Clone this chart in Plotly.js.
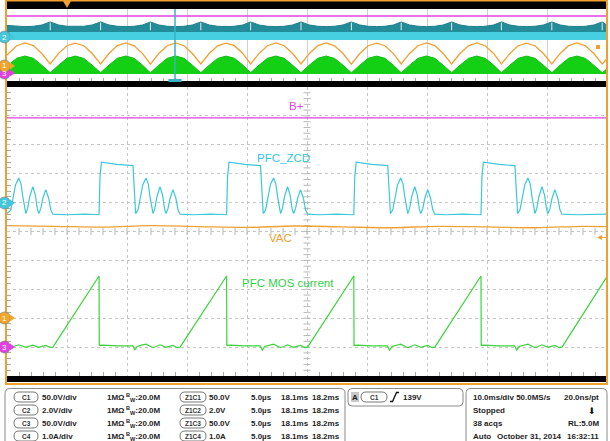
<!DOCTYPE html>
<html><head><meta charset="utf-8">
<script src="https://cdn.plot.ly/plotly-3.0.1.min.js"></script>
<style>html,body{margin:0;padding:0;background:#fff;overflow:hidden}#chart{width:610px;height:441px}</style>
</head><body><div id="chart"></div>
<script>
// ---------- DATA (vertical unit = screen divisions, 0 = bottom, 10 = top) ----------
// Overview record, time in ms (10 ms/div)
const ovT = [0, 1.6, 3.0, 4.4, 5.8,
  7.2, 8.6, 10.0, 11.4, 12.8, 14.2,
  15.6, 17.0, 18.4, 19.8, 21.2, 22.6,
  23.9, 25.3, 26.7, 28.1, 29.5, 30.9,
  32.3, 33.7, 35.1, 36.5, 37.9, 39.3,
  40.6, 42.0, 43.4, 44.8, 46.2, 47.6,
  49.0, 50.4, 51.8, 53.2, 54.6, 56.0,
  57.4, 58.8, 60.2, 61.6, 63.0, 64.4,
  65.7, 67.1, 68.5, 69.9, 71.3, 72.7,
  74.1, 75.5, 76.9, 78.3, 79.7, 81.1,
  82.4, 83.8, 85.2, 86.6, 88.0, 89.4,
  90.8, 92.2, 93.6, 95.0, 96.4, 97.8,
  99.2, 100];
const ovNotchT = [7.2, 15.6, 23.9, 32.3, 40.6, 49.0, 57.4, 65.7, 74.1, 82.4, 90.8, 99.2];
const ovVac = [3.6, 4.9, 5.28, 4.92, 3.82,
  2.36, 3.84, 4.9, 5.27, 4.9, 3.82,
  2.38, 3.82, 4.91, 5.29, 4.88, 3.8,
  2.35, 3.83, 4.9, 5.28, 4.9, 3.82,
  2.37, 3.82, 4.89, 5.27, 4.91, 3.83,
  2.36, 3.81, 4.9, 5.28, 4.9, 3.82,
  2.38, 3.83, 4.91, 5.29, 4.89, 3.82,
  2.35, 3.82, 4.9, 5.27, 4.9, 3.81,
  2.37, 3.83, 4.9, 5.28, 4.91, 3.82,
  2.36, 3.82, 4.89, 5.28, 4.9, 3.83,
  2.38, 3.81, 4.9, 5.27, 4.9, 3.82,
  2.36, 3.83, 4.91, 5.28, 4.89, 3.82,
  2.37, 3.1];
const ovCurEnv = [2.05, 3.15, 3.47, 3.15, 2.2,
  1.15, 2.2, 3.15, 3.46, 3.14, 2.2,
  1.16, 2.21, 3.16, 3.47, 3.15, 2.19,
  1.14, 2.2, 3.15, 3.48, 3.15, 2.2,
  1.15, 2.19, 3.14, 3.46, 3.16, 2.21,
  1.16, 2.2, 3.15, 3.47, 3.15, 2.2,
  1.15, 2.21, 3.16, 3.47, 3.14, 2.2,
  1.14, 2.2, 3.15, 3.46, 3.15, 2.19,
  1.15, 2.2, 3.15, 3.48, 3.16, 2.2,
  1.16, 2.19, 3.14, 3.47, 3.15, 2.21,
  1.15, 2.2, 3.15, 3.46, 3.15, 2.2,
  1.14, 2.21, 3.16, 3.47, 3.14, 2.2,
  1.15, 1.7];
const ovZcdTop = [7.72, 7.6, 7.55, 7.6, 7.78,
  8.2, 7.78, 7.6, 7.55, 7.6, 7.78,
  8.2, 7.78, 7.6, 7.55, 7.6, 7.78,
  8.2, 7.78, 7.6, 7.55, 7.6, 7.78,
  8.2, 7.78, 7.6, 7.55, 7.6, 7.78,
  8.2, 7.78, 7.6, 7.55, 7.6, 7.78,
  8.2, 7.78, 7.6, 7.55, 7.6, 7.78,
  8.2, 7.78, 7.6, 7.55, 7.6, 7.78,
  8.2, 7.78, 7.6, 7.55, 7.6, 7.78,
  8.2, 7.78, 7.6, 7.55, 7.6, 7.78,
  8.2, 7.78, 7.6, 7.55, 7.6, 7.78,
  8.2, 7.78, 7.6, 7.55, 7.6, 7.78,
  8.2, 7.75];
const ovFlatT = [0, 100];
const ovZcdMid = [6.8, 6.8];
const ovZcdLow = [5.7, 5.7];
const ovCurBase = [0.97, 0.97];
const ovBplus = [9.03, 9.03];

// Zoom window, time in microseconds (5 us/div)
const bplusT = [0, 50];
const bplusV = [8.93, 8.93];

const zcdT = [0.0, 0.32, 0.52, 0.72, 0.98, 1.17, 1.32, 1.47, 1.57, 1.72, 1.89, 2.15, 2.37, 2.52, 2.65, 2.82, 2.99, 3.23, 3.47, 3.65, 3.82, 5.0, 6.5,
  7.67, 7.75, 7.87, 8.17, 9.17, 10.5, 10.59, 10.72, 10.92, 11.12, 11.32, 11.58, 11.77, 11.92, 12.07, 12.17, 12.32, 12.49, 12.75, 12.97, 13.12, 13.25, 13.42, 13.59, 13.83, 14.07, 14.25, 14.42, 15.5, 17.0,
  18.3, 18.38, 18.5, 18.8, 19.8, 21.13, 21.22, 21.35, 21.55, 21.75, 21.95, 22.21, 22.4, 22.55, 22.7, 22.8, 22.95, 23.12, 23.38, 23.6, 23.75, 23.88, 24.05, 24.22, 24.46, 24.7, 24.88, 25.05, 26.0, 27.5,
  28.9, 28.98, 29.1, 29.4, 30.4, 31.73, 31.82, 31.95, 32.15, 32.35, 32.55, 32.81, 33.0, 33.15, 33.3, 33.4, 33.55, 33.72, 33.98, 34.2, 34.35, 34.48, 34.65, 34.82, 35.06, 35.3, 35.48, 35.65, 36.5, 38.0,
  39.5, 39.58, 39.7, 40.0, 41.0, 42.33, 42.42, 42.55, 42.75, 42.95, 43.15, 43.41, 43.6, 43.75, 43.9, 44.0, 44.15, 44.32, 44.58, 44.8, 44.95, 45.08, 45.25, 45.42, 45.66, 45.9, 46.08, 46.25, 47.5, 50.0];
const zcdV = [5.62, 5.75, 6.2, 6.62, 6.85, 6.65, 6.2, 5.75, 5.62, 5.8, 6.2, 6.55, 6.25, 5.8, 5.62, 5.8, 6.15, 6.45, 6.15, 5.75, 5.6, 5.58, 5.6,
  5.58, 6.9, 7.4, 7.38, 7.32, 7.28, 6.5, 5.62, 5.75, 6.2, 6.62, 6.85, 6.65, 6.2, 5.75, 5.62, 5.8, 6.2, 6.55, 6.25, 5.8, 5.62, 5.8, 6.15, 6.45, 6.15, 5.75, 5.6, 5.58, 5.6,
  5.58, 6.9, 7.4, 7.38, 7.32, 7.28, 6.5, 5.62, 5.75, 6.2, 6.62, 6.85, 6.65, 6.2, 5.75, 5.62, 5.8, 6.2, 6.55, 6.25, 5.8, 5.62, 5.8, 6.15, 6.45, 6.15, 5.75, 5.6, 5.58, 5.6,
  5.58, 6.9, 7.4, 7.38, 7.32, 7.28, 6.5, 5.62, 5.75, 6.2, 6.62, 6.85, 6.65, 6.2, 5.75, 5.62, 5.8, 6.2, 6.55, 6.25, 5.8, 5.62, 5.8, 6.15, 6.45, 6.15, 5.75, 5.6, 5.58, 5.6,
  5.58, 6.9, 7.4, 7.38, 7.32, 7.28, 6.5, 5.62, 5.75, 6.2, 6.62, 6.85, 6.65, 6.2, 5.75, 5.62, 5.8, 6.2, 6.55, 6.25, 5.8, 5.62, 5.8, 6.15, 6.45, 6.15, 5.75, 5.6, 5.58, 5.6];

const vacT = [0, 4, 8, 12, 16, 20, 24, 28, 32, 36, 40, 44, 48, 50];
const vacV = [5.2, 5.18, 5.15, 5.2, 5.17, 5.14, 5.19, 5.16, 5.13, 5.18, 5.16, 5.13, 5.18, 5.17];

const curT = [0, 0.4, 0.98, 1.57, 2.15, 2.65, 3.23, 3.6, 3.82, 7.67,
  7.69, 8.0, 9.2, 10.5, 10.65, 10.85, 11.2, 11.58, 12.17, 12.75, 13.25, 13.83, 14.2, 14.42, 18.3,
  18.32, 18.6, 19.8, 21.1, 21.28, 21.48, 21.83, 22.21, 22.8, 23.38, 23.88, 24.46, 24.83, 25.05, 28.9,
  28.92, 29.2, 30.4, 31.7, 31.88, 32.08, 32.43, 32.81, 33.4, 33.98, 34.48, 35.06, 35.43, 35.65, 39.5,
  39.52, 39.8, 41.0, 42.3, 42.48, 42.68, 43.03, 43.41, 44.0, 44.58, 45.08, 45.66, 46.03, 46.25, 50.0];
const curV = [1.04, 1.0, 1.08, 0.99, 1.07, 0.99, 1.06, 0.99, 1.0, 3.46,
  1.06, 1.07, 1.04, 1.04, 0.9, 1.02, 1.07, 1.1, 0.98, 1.08, 0.99, 1.06, 0.98, 1.0, 3.46,
  1.06, 1.07, 1.04, 1.04, 0.9, 1.02, 1.07, 1.1, 0.98, 1.08, 0.99, 1.06, 0.98, 1.0, 3.46,
  1.06, 1.07, 1.04, 1.04, 0.9, 1.02, 1.07, 1.1, 0.98, 1.08, 0.99, 1.06, 0.98, 1.0, 3.46,
  1.06, 1.07, 1.04, 1.04, 0.9, 1.02, 1.07, 1.1, 0.98, 1.08, 0.99, 1.06, 0.98, 1.0, 3.44];

const traceLabels = ["B+", "PFC_ZCD", "VAC", "PFC MOS current"];
const chanRows = [
  ["C1", "50.0V/div", "Z1C1", "50.0V"],
  ["C2", "2.0V/div", "Z1C2", "2.0V"],
  ["C3", "50.0V/div", "Z1C3", "50.0V"],
  ["C4", "1.0A/div", "Z1C4", "1.0A"]];
const zoomScale = "5.0µs", zoomStart = "18.1ms", zoomEnd = "18.2ms";
const trigText = "139V";
const acqLines = ["10.0ms/div 50.0MS/s", "20.0ns/pt", "Stopped", "38 acqs", "RL:5.0M", "Auto", "October 31, 2014", "16:32:11"];

// ---------- COLOURS ----------
const MAG = '#e040e0', CYN = '#3cc8d8', TEAL = '#238c98', ORG = '#f0a030', GRN = '#3ad43a', GRNF = '#14d014';
const FONT = 'Liberation Sans, Arial, sans-serif';

// ---------- helpers (pixel -> paper) ----------
const W = 610, H = 441;
const px = x => x / W, py = y => 1 - y / H;
function rr(x0, y0, x1, y1, r) {
  return `M${px(x0 + r)},${py(y0)} L${px(x1 - r)},${py(y0)} Q${px(x1)},${py(y0)} ${px(x1)},${py(y0 + r)} ` +
    `L${px(x1)},${py(y1 - r)} Q${px(x1)},${py(y1)} ${px(x1 - r)},${py(y1)} L${px(x0 + r)},${py(y1)} ` +
    `Q${px(x0)},${py(y1)} ${px(x0)},${py(y1 - r)} L${px(x0)},${py(y0 + r)} Q${px(x0)},${py(y0)} ${px(x0 + r)},${py(y0)} Z`;
}

// white notch lines inside the overview ZCD band
const notchX = [], notchY = [];
ovNotchT.forEach(t => { notchX.push(t, t, null); notchY.push(8.1, 7.05, null); });

const base = {mode: 'lines', hoverinfo: 'skip', showlegend: false};
const traces = [];
// centre crosshair minor ticks (graticule)
const chX = [], chXY = [], chY = [], chYX = [];
for (let i = 1; i < 50; i++) { chX.push(i); chXY.push(5); }
for (let i = 1; i < 50; i++) { chY.push(i * 0.2); chYX.push(25); }
traces.push(
  {type: 'scatter', mode: 'markers', x: chX, y: chXY, xaxis: 'x', yaxis: 'y', hoverinfo: 'skip', showlegend: false,
    marker: {symbol: 'line-ns', size: 5, line: {width: 1, color: '#b8b8b8'}}},
  {type: 'scatter', mode: 'markers', x: chYX, y: chY, xaxis: 'x', yaxis: 'y', hoverinfo: 'skip', showlegend: false,
    marker: {symbol: 'line-ew', size: 5, line: {width: 1, color: '#b8b8b8'}}}
);
traces.push(
  // overview
  Object.assign({}, base, {x: ovFlatT, y: ovCurBase, xaxis: 'x2', yaxis: 'y2', line: {width: 0, color: GRNF}}),
  Object.assign({}, base, {x: ovT, y: ovCurEnv, xaxis: 'x2', yaxis: 'y2', fill: 'tonexty', fillcolor: GRNF, line: {width: 1, color: '#10c010'}}),
  Object.assign({}, base, {x: ovFlatT, y: ovZcdLow, xaxis: 'x2', yaxis: 'y2', line: {width: 0, color: CYN}}),
  Object.assign({}, base, {x: ovFlatT, y: ovZcdMid, xaxis: 'x2', yaxis: 'y2', fill: 'tonexty', fillcolor: '#45cfe0', line: {width: 0, color: CYN}}),
  Object.assign({}, base, {x: ovT, y: ovZcdTop, xaxis: 'x2', yaxis: 'y2', fill: 'tonexty', fillcolor: TEAL, line: {width: 1, color: '#1f7f8a'}}),
  Object.assign({}, base, {x: notchX, y: notchY, xaxis: 'x2', yaxis: 'y2', line: {width: 1, color: 'rgba(255,255,255,0.85)'}}),
  Object.assign({}, base, {x: ovT, y: ovVac, xaxis: 'x2', yaxis: 'y2', line: {width: 1.3, color: ORG}}),
  Object.assign({}, base, {x: ovFlatT, y: ovBplus, xaxis: 'x2', yaxis: 'y2', line: {width: 1.5, color: MAG}}),
  // main zoom window
  Object.assign({}, base, {x: bplusT, y: bplusV, xaxis: 'x', yaxis: 'y', line: {width: 1.3, color: MAG}}),
  Object.assign({}, base, {x: vacT, y: vacV, xaxis: 'x', yaxis: 'y', line: {width: 1.3, color: ORG, shape: 'spline'}}),
  Object.assign({}, base, {x: zcdT, y: zcdV, xaxis: 'x', yaxis: 'y', line: {width: 1.2, color: CYN}}),
  Object.assign({}, base, {x: curT, y: curV, xaxis: 'x', yaxis: 'y', line: {width: 1.2, color: GRN}})
);

const shapes = [];
const annotations = [];
// black bars
[[1, 9], [81, 87], [376, 382]].forEach(b => shapes.push({type: 'rect', xref: 'paper', yref: 'paper',
  x0: px(7), x1: px(607), y0: py(b[1]), y1: py(b[0]), fillcolor: '#000', line: {width: 0}}));
// orange frame
shapes.push({type: 'rect', xref: 'paper', yref: 'paper', x0: px(6), x1: px(607), y0: py(384), y1: py(0.5),
  line: {color: ORG, width: 2}, fillcolor: 'rgba(0,0,0,0)'});
// trigger position marker
shapes.push({type: 'path', xref: 'paper', yref: 'paper', path: `M${px(63)},${py(1)} L${px(71)},${py(1)} L${px(67)},${py(8)} Z`,
  fillcolor: ORG, line: {width: 0}});
// zoom position marker in overview
shapes.push({type: 'line', xref: 'x2', yref: 'paper', x0: 28, x1: 28, y0: py(81), y1: py(9), line: {color: '#3ab0c8', width: 1.5}});
shapes.push({type: 'line', xref: 'x2', yref: 'paper', x0: 26.9, x1: 29.1, y0: py(80.5), y1: py(80.5), line: {color: '#3ab0c8', width: 3}});
// right side reference markers
shapes.push({type: 'path', xref: 'paper', yref: 'paper', path: `M${px(597)},${py(237.5)} L${px(602)},${py(235)} L${px(602)},${py(240)} Z`, fillcolor: ORG, line: {width: 0}});
shapes.push({type: 'line', xref: 'paper', yref: 'paper', x0: px(601), x1: px(606), y0: py(237.5), y1: py(237.5), line: {color: ORG, width: 1}});
shapes.push({type: 'rect', xref: 'paper', yref: 'paper', x0: px(596), x1: px(600), y0: py(49), y1: py(45), fillcolor: ORG, line: {width: 0}});

// channel markers on left
function chMarker(cy, col, txt, tc) {
  shapes.push({type: 'circle', xref: 'paper', yref: 'paper', x0: px(-1.5), x1: px(10.5), y0: py(cy + 6), y1: py(cy - 6),
    fillcolor: col, line: {color: '#777', width: 0.6}});
  shapes.push({type: 'path', xref: 'paper', yref: 'paper', path: `M${px(10)},${py(cy - 3.5)} L${px(15)},${py(cy)} L${px(10)},${py(cy + 3.5)} Z`,
    fillcolor: col, line: {width: 0}});
  annotations.push({xref: 'paper', yref: 'paper', x: px(4.5), y: py(cy), text: txt, showarrow: false,
    font: {family: FONT, size: 8, color: tc}, xanchor: 'center', yanchor: 'middle'});
}
chMarker(37, '#45c6dc', '2', '#fff');
chMarker(73, '#e040e0', '3', '#fff');
chMarker(66, '#f2a52a', '1', '#fff');
chMarker(203, '#45c6dc', '2', '#fff');
chMarker(347, '#e040e0', '3', '#fff');
chMarker(318, '#f2a52a', '1', '#fff');

// trace labels
const labelPos = [[24.1, 9.34, MAG], [23.0, 7.55, '#34c6e0'], [22.8, 4.78, ORG], [23.4, 3.22, '#34d04a']];
traceLabels.forEach((t, i) => annotations.push({xref: 'x', yref: 'y', x: labelPos[i][0], y: labelPos[i][1], text: t,
  showarrow: false, font: {family: FONT, size: 11.5, color: labelPos[i][2]}, xanchor: 'center', yanchor: 'middle'}));

// bottom info panels
const BOXC = '#8a8a8a';
shapes.push({type: 'path', xref: 'paper', yref: 'paper', path: rr(5, 388.5, 345, 446, 5), line: {color: BOXC, width: 1}, fillcolor: 'rgba(0,0,0,0)'});
shapes.push({type: 'path', xref: 'paper', yref: 'paper', path: rr(348, 388.5, 463, 406, 4), line: {color: BOXC, width: 1}, fillcolor: 'rgba(0,0,0,0)'});
shapes.push({type: 'path', xref: 'paper', yref: 'paper', path: rr(466, 388.5, 607, 446, 5), line: {color: BOXC, width: 1}, fillcolor: 'rgba(0,0,0,0)'});

function T(text, x, y, anchor, size, bold, color) {
  annotations.push({xref: 'paper', yref: 'paper', x: px(x), y: py(y), text: bold ? '<b>' + text + '</b>' : text,
    showarrow: false, xanchor: anchor || 'left', yanchor: 'middle',
    font: {family: FONT, size: size || 8, color: color || '#1e1e1e'}});
}
function oval(x0, x1, y, txt) {
  shapes.push({type: 'path', xref: 'paper', yref: 'paper', path: rr(x0, y - 5, x1, y + 5, 5), line: {color: '#555', width: 0.8}, fillcolor: 'rgba(0,0,0,0)'});
  T(txt, (x0 + x1) / 2, y, 'center', 6.5, true, '#333');
}
const rowY = [397, 410, 423, 436];
chanRows.forEach((r, i) => {
  const y = rowY[i];
  oval(14, 38, y, r[0]);
  T(r[1], 39.5, y, 'left', 8, true);
  T('1MΩ', 105, y, 'left', 8, true);
  T('<sup>B</sup><sub>W</sub>:20.0M', 124, y, 'left', 8, true);
  oval(180, 206, y, r[2]);
  T(r[3], 207, y, 'left', 8, true);
  T(zoomScale, 249, y, 'left', 8, true);
  T(zoomStart, 279, y, 'left', 8, true);
  T(zoomEnd, 310, y, 'left', 8, true);
});
// trigger box
shapes.push({type: 'rect', xref: 'paper', yref: 'paper', x0: px(351), x1: px(359), y0: py(402), y1: py(392), fillcolor: '#c8c8c8', line: {width: 0}});
T('A', 355, 397, 'center', 8, true);
oval(361, 387, 397, 'C1');
shapes.push({type: 'path', xref: 'paper', yref: 'paper', path: `M${px(390)},${py(401.5)} L${px(392.5)},${py(401.5)} L${px(396.5)},${py(392.5)} L${px(399)},${py(392.5)}`,
  line: {color: '#111', width: 1.3}});
T(trigText, 400.5, 397, 'left', 8, true);
// acquisition box
T(acqLines[0], 470.5, 397, 'left', 8, true);
T(acqLines[1], 601, 397, 'right', 8, true);
T(acqLines[2], 470.5, 410, 'left', 8, true);
T('⬇', 592, 410.5, 'center', 9, false, '#111');
T(acqLines[3], 470.5, 423, 'left', 8, true);
T(acqLines[4], 601, 423, 'right', 8, true);
T(acqLines[5], 470.5, 436, 'left', 8, true);
T(acqLines[6], 495, 436, 'left', 8, true);
T(acqLines[7], 601, 436, 'right', 8, true);

const gridC = '#c6c6c6';
const layout = {
  width: W, height: H, margin: {l: 0, r: 0, t: 0, b: 0}, paper_bgcolor: '#fff', plot_bgcolor: '#fff',
  showlegend: false, dragmode: false,
  xaxis: {domain: [px(7), px(607)], range: [0, 50], anchor: 'y', dtick: 5, tick0: 0, showgrid: true, gridcolor: gridC,
    griddash: 'dot', gridwidth: 1, zeroline: false, showline: false, showticklabels: false, ticks: '', mirror: 'ticks',
    minor: {dtick: 1, ticks: 'inside', ticklen: 4, tickcolor: '#aaa', showgrid: false}, fixedrange: true},
  yaxis: {domain: [py(376), py(87)], range: [0, 10], anchor: 'x', dtick: 1, tick0: 0, showgrid: true, gridcolor: gridC,
    griddash: 'dot', gridwidth: 1, zeroline: false, showline: false, showticklabels: false, ticks: '', mirror: 'ticks',
    minor: {dtick: 0.2, ticks: 'inside', ticklen: 4, tickcolor: '#aaa', showgrid: false}, fixedrange: true},
  xaxis2: {domain: [px(7), px(607)], range: [0, 100], anchor: 'y2', dtick: 10, tick0: 0, showgrid: true, gridcolor: '#d0d0d0',
    gridwidth: 1, zeroline: false, showline: false, showticklabels: false, ticks: '', mirror: 'ticks',
    minor: {dtick: 2, ticks: 'inside', ticklen: 3, tickcolor: '#aaa', showgrid: false}, fixedrange: true},
  yaxis2: {domain: [py(81), py(9)], range: [0, 10], anchor: 'x2', showgrid: false, zeroline: false, showline: false,
    showticklabels: false, ticks: '', fixedrange: true},
  shapes: shapes, annotations: annotations
};
Plotly.newPlot('chart', traces, layout, {staticPlot: true, displayModeBar: false});
</script></body></html>
